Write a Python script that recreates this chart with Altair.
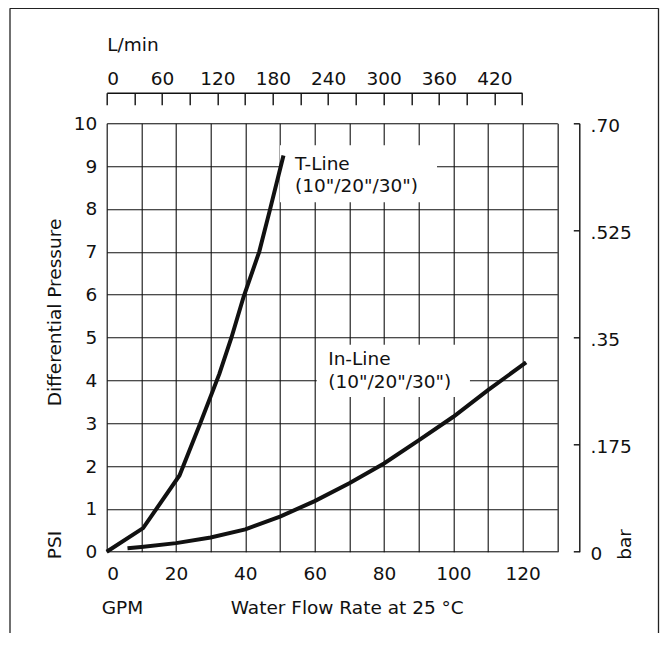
import altair as alt
import pandas as pd

# ---- data ----
t_gpm = [0, 10.5, 21, 27, 32.5, 36, 39.5, 44, 47, 51]
t_psi = [0, 0.55, 1.78, 3.0, 4.15, 5.0, 5.95, 7.0, 7.95, 9.25]

in_gpm = [6, 10, 20, 30, 40, 50, 60, 70, 80, 90, 100, 110, 121]
in_psi = [0.08, 0.11, 0.2, 0.33, 0.52, 0.82, 1.18, 1.6, 2.06, 2.6, 3.15, 3.77, 4.42]

gpm_ticks = list(range(0, 131, 10))
psi_ticks = list(range(0, 11))
lpm_ticks = list(range(0, 451, 30))
bar_ticks = [0, 0.175, 0.35, 0.525, 0.70]
bar_labels = ["0", ".175", ".35", ".525", ".70"]

label_text = ["T-Line", '(10"/20"/30")', "In-Line", '(10"/20"/30")']
label_gpm = [54.3, 54.3, 63.9, 63.9]
label_psi = [8.91, 8.40, 4.36, 3.81]

box_gpm = [50.0, 60.6]
box_gpm2 = [95.3, 104.8]
box_psi = [8.16, 3.61]
box_psi2 = [9.49, 4.83]

FONT = "DejaVu Sans"
FS = 18.5
INK = "#111111"
TXT = dict(labelFont=FONT, labelFontSize=FS, labelColor=INK,
           titleFont=FONT, titleFontSize=FS, titleColor=INK, titleFontWeight="normal")

lines_df = pd.DataFrame({
    "gpm": t_gpm + in_gpm,
    "psi": t_psi + in_psi,
    "series": ["T-Line"] * len(t_gpm) + ["In-Line"] * len(in_gpm),
})
labels_df = pd.DataFrame({"gpm": label_gpm, "psi": label_psi, "text": label_text})
boxes_df = pd.DataFrame({"gpm": box_gpm, "gpm2": box_gpm2, "psi": box_psi, "psi2": box_psi2})

x_enc = alt.X(
    "gpm:Q",
    scale=alt.Scale(domain=[0, 130], nice=False, zero=False),
    axis=alt.Axis(
        orient="bottom", values=gpm_ticks, grid=True, gridColor=INK, gridWidth=1.1,
        gridOpacity=1, domain=False, ticks=False, labelPadding=13,
        labelExpr="datum.value % 20 == 0 && datum.value <= 120 ? datum.label : ''",
        title="Water Flow Rate at 25 °C", titleX=240, titleY=56, titleAlign="center",
        titleBaseline="middle", **TXT,
    ),
)
y_enc = alt.Y(
    "psi:Q",
    scale=alt.Scale(domain=[0, 10], nice=False),
    axis=alt.Axis(
        orient="left", values=psi_ticks, grid=True, gridColor=INK, gridWidth=1.1,
        gridOpacity=1, domain=False, ticks=False, labelPadding=10,
        title="Differential Pressure", titleAngle=270, titleX=-51.7, titleY=188.7,
        titleAlign="center", titleBaseline="middle", **TXT,
    ),
)

base_lines = alt.Chart(lines_df).mark_line(color=INK, strokeWidth=4).encode(
    x=x_enc, y=y_enc, detail="series:N"
)
boxes = alt.Chart(boxes_df).mark_rect(color="white", opacity=1).encode(
    x=x_enc, x2="gpm2:Q", y=y_enc, y2="psi2:Q"
)
texts = alt.Chart(labels_df).mark_text(
    align="left", baseline="alphabetic", font=FONT, fontSize=FS, color=INK
).encode(x=x_enc, y=y_enc, text="text:N")

one = pd.DataFrame({"a": [0]})
psi_note = alt.Chart(one).mark_text(
    text="PSI", angle=270, font=FONT, fontSize=FS, color=INK, align="center", baseline="middle"
).encode(x=alt.value(-51.7), y=alt.value(421.7))
gpm_note = alt.Chart(one).mark_text(
    text="GPM", font=FONT, fontSize=FS, color=INK, align="left", baseline="middle"
).encode(x=alt.value(-5), y=alt.value(484.7))

frame_l = alt.Chart(one).mark_rule(color="#222222", strokeWidth=1.3).encode(
    x=alt.value(-96.7), y=alt.value(-115), y2=alt.value(530))
frame_t = alt.Chart(one).mark_rule(color="#222222", strokeWidth=1.3).encode(
    x=alt.value(-96.7), x2=alt.value(551.8), y=alt.value(-115))
frame_r = alt.Chart(one).mark_rule(color="#222222", strokeWidth=1.3).encode(
    x=alt.value(551.8), y=alt.value(-115), y2=alt.value(530))

main = alt.layer(boxes, base_lines, texts, psi_note, gpm_note, frame_l, frame_t, frame_r)

lpm_label_expr = "datum.value % 60 == 0 ? datum.label : ''"
top = alt.Chart(pd.DataFrame({"lpm": [0]})).mark_point(opacity=0, size=0).encode(
    x=alt.X(
        "lpm:Q",
        scale=alt.Scale(domain=[0, 450], range=[0, 415.3], nice=False, zero=False),
        axis=alt.Axis(
            orient="top", values=lpm_ticks, offset=30.6, grid=False,
            domain=True, domainColor=INK, domainWidth=1.4,
            ticks=True, tickColor=INK, tickWidth=1.4, tickSize=alt.ExprRef(expr="-12"),
            labelPadding=20.4, labelBaseline="alphabetic", labelExpr=lpm_label_expr,
            title="L/min", titleX=0, titleY=-42, titleAlign="left",
            titleBaseline="alphabetic", **TXT,
        ),
    )
)

bar_expr = "[" + ",".join("'%s'" % s for s in bar_labels) + "][indexof([" + ",".join(
    str(v) for v in bar_ticks) + "], datum.value)]"
right = alt.Chart(pd.DataFrame({"bar": [0]})).mark_point(opacity=0, size=0).encode(
    y=alt.Y(
        "bar:Q",
        scale=alt.Scale(domain=[0, 0.7], nice=False, zero=False),
        axis=alt.Axis(
            orient="right", values=bar_ticks, offset=22, grid=False,
            domain=True, domainColor=INK, domainWidth=1.4,
            ticks=True, tickColor=INK, tickWidth=1.4, tickSize=alt.ExprRef(expr="-6"),
            labelPadding=16.7, labelExpr=bar_expr, labelOffset=2,
            title="bar", titleAngle=270, titleX=44.7, titleY=420.7,
            titleAlign="center", titleBaseline="middle", **TXT,
        ),
    )
)

chart = alt.layer(main, top, right).resolve_scale(x="independent", y="independent").properties(
    width=450.6, height=428.4,
    autosize=alt.AutoSizeParams(type="none"),
    padding={"left": 98.7, "top": 115.3, "right": 102.7, "bottom": 81.3},
).configure_view(stroke=INK, strokeWidth=1.5).configure(background="white")

chart.save("out.html", embed_options={"renderer": "svg", "actions": False})
